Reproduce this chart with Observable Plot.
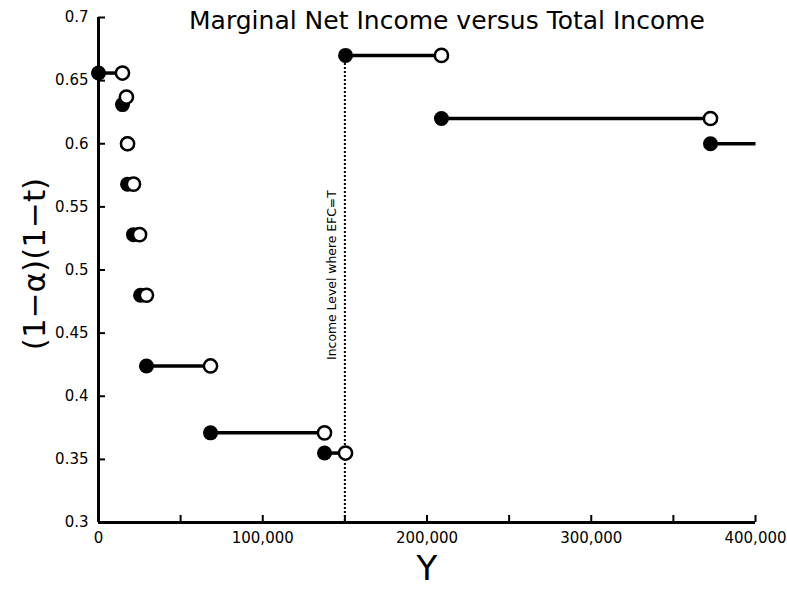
<!DOCTYPE html>
<html>
<head>
<meta charset="utf-8">
<script src="https://cdn.jsdelivr.net/npm/d3@7"></script>
<script src="https://cdn.jsdelivr.net/npm/@observablehq/plot@0.6"></script>
<style>
  html, body { margin: 0; padding: 0; background: #fff; }
  svg { display: block; }
</style>
</head>
<body>
<div id="chart"></div>
<script>
// ---- data ----
const title = "Marginal Net Income versus Total Income";
const xLabel = "Y";
const yLabel = "(1−α)(1−t)";
const annotation = "Income Level where EFC=T";
const efcIncome = 150000;

// closed (filled) left end of each step
const fillX = [0, 14600, 17600, 17700, 21300, 25600, 29200, 68200, 137600, 150400, 208800, 372600];
const fillY = [0.656, 0.631, 0.600, 0.568, 0.528, 0.480, 0.424, 0.371, 0.355, 0.670, 0.620, 0.600];
// open right end of each step (last step runs to the edge)
const openX = [14600, 17000, 17700, 21300, 25000, 29200, 68200, 137600, 150400, 208800, 372600];
const openY = [0.656, 0.637, 0.600, 0.568, 0.528, 0.480, 0.424, 0.371, 0.355, 0.670, 0.620];
const lastEndX = 400000;

const xTicks = [0, 50000, 100000, 150000, 200000, 250000, 300000, 350000, 400000];
const xLabelTicks = [0, 100000, 200000, 300000, 400000];
const yTicks = [0.3, 0.35, 0.4, 0.45, 0.5, 0.55, 0.6, 0.65, 0.7];

// ---- build tables ----
const steps = fillX.map((x, i) => ({
  x1: x, y1: fillY[i],
  x2: i < openX.length ? openX[i] : lastEndX,
  y2: i < openY.length ? openY[i] : fillY[i]
}));
const filled = fillX.map((x, i) => ({x, y: fillY[i]}));
const open = openX.map((x, i) => ({x, y: openY[i]}));

const chart = Plot.plot({
  width: 787,
  height: 594,
  marginLeft: 98,
  marginRight: 32,
  marginTop: 17,
  marginBottom: 72,
  style: {fontFamily: "DejaVu Sans", background: "#fff", color: "#000"},
  x: {domain: [0, 400000]},
  y: {domain: [0.3, 0.7]},
  marks: [
    Plot.axisX({ticks: xTicks, tickSize: -7, strokeWidth: 2, text: null, label: null}),
    Plot.axisX({ticks: xLabelTicks, tickSize: 0, tickPadding: 10, tickFormat: d3.format(","), fontSize: 15, label: null}),
    Plot.axisY({ticks: yTicks, tickSize: -7, tickPadding: 17, strokeWidth: 2, tickFormat: d => String(d), fontSize: 15, label: null}),
    Plot.ruleX([0], {strokeWidth: 3}),
    Plot.ruleY([0.3], {strokeWidth: 3}),
    Plot.ruleX([efcIncome], {y1: 0.67, y2: 0.3, strokeWidth: 2, strokeDasharray: "2,2"}),
    Plot.text([annotation], {x: efcIncome, y: 0.496, rotate: -90, dx: -13, fontSize: 12.4}),
    Plot.link(steps, {x1: "x1", y1: "y1", x2: "x2", y2: "y2", strokeWidth: 3.5}),
    Plot.dot(filled, {x: "x", y: "y", r: 7.5, fill: "#000", stroke: "none"}),
    Plot.dot(open, {x: "x", y: "y", r: 6.6, fill: "#fff", stroke: "#000", strokeWidth: 2.5}),
    Plot.text([title], {frameAnchor: "top", dx: 20, dy: 3, fontSize: 25, lineAnchor: "middle"}),
    Plot.text([yLabel], {frameAnchor: "left", textAnchor: "middle", dx: -63, dy: -6, rotate: -90, fontSize: 31}),
    Plot.text([xLabel], {frameAnchor: "bottom", dy: 57, fontSize: 34})
  ]
});
document.getElementById("chart").appendChild(chart);
</script>
</body>
</html>
